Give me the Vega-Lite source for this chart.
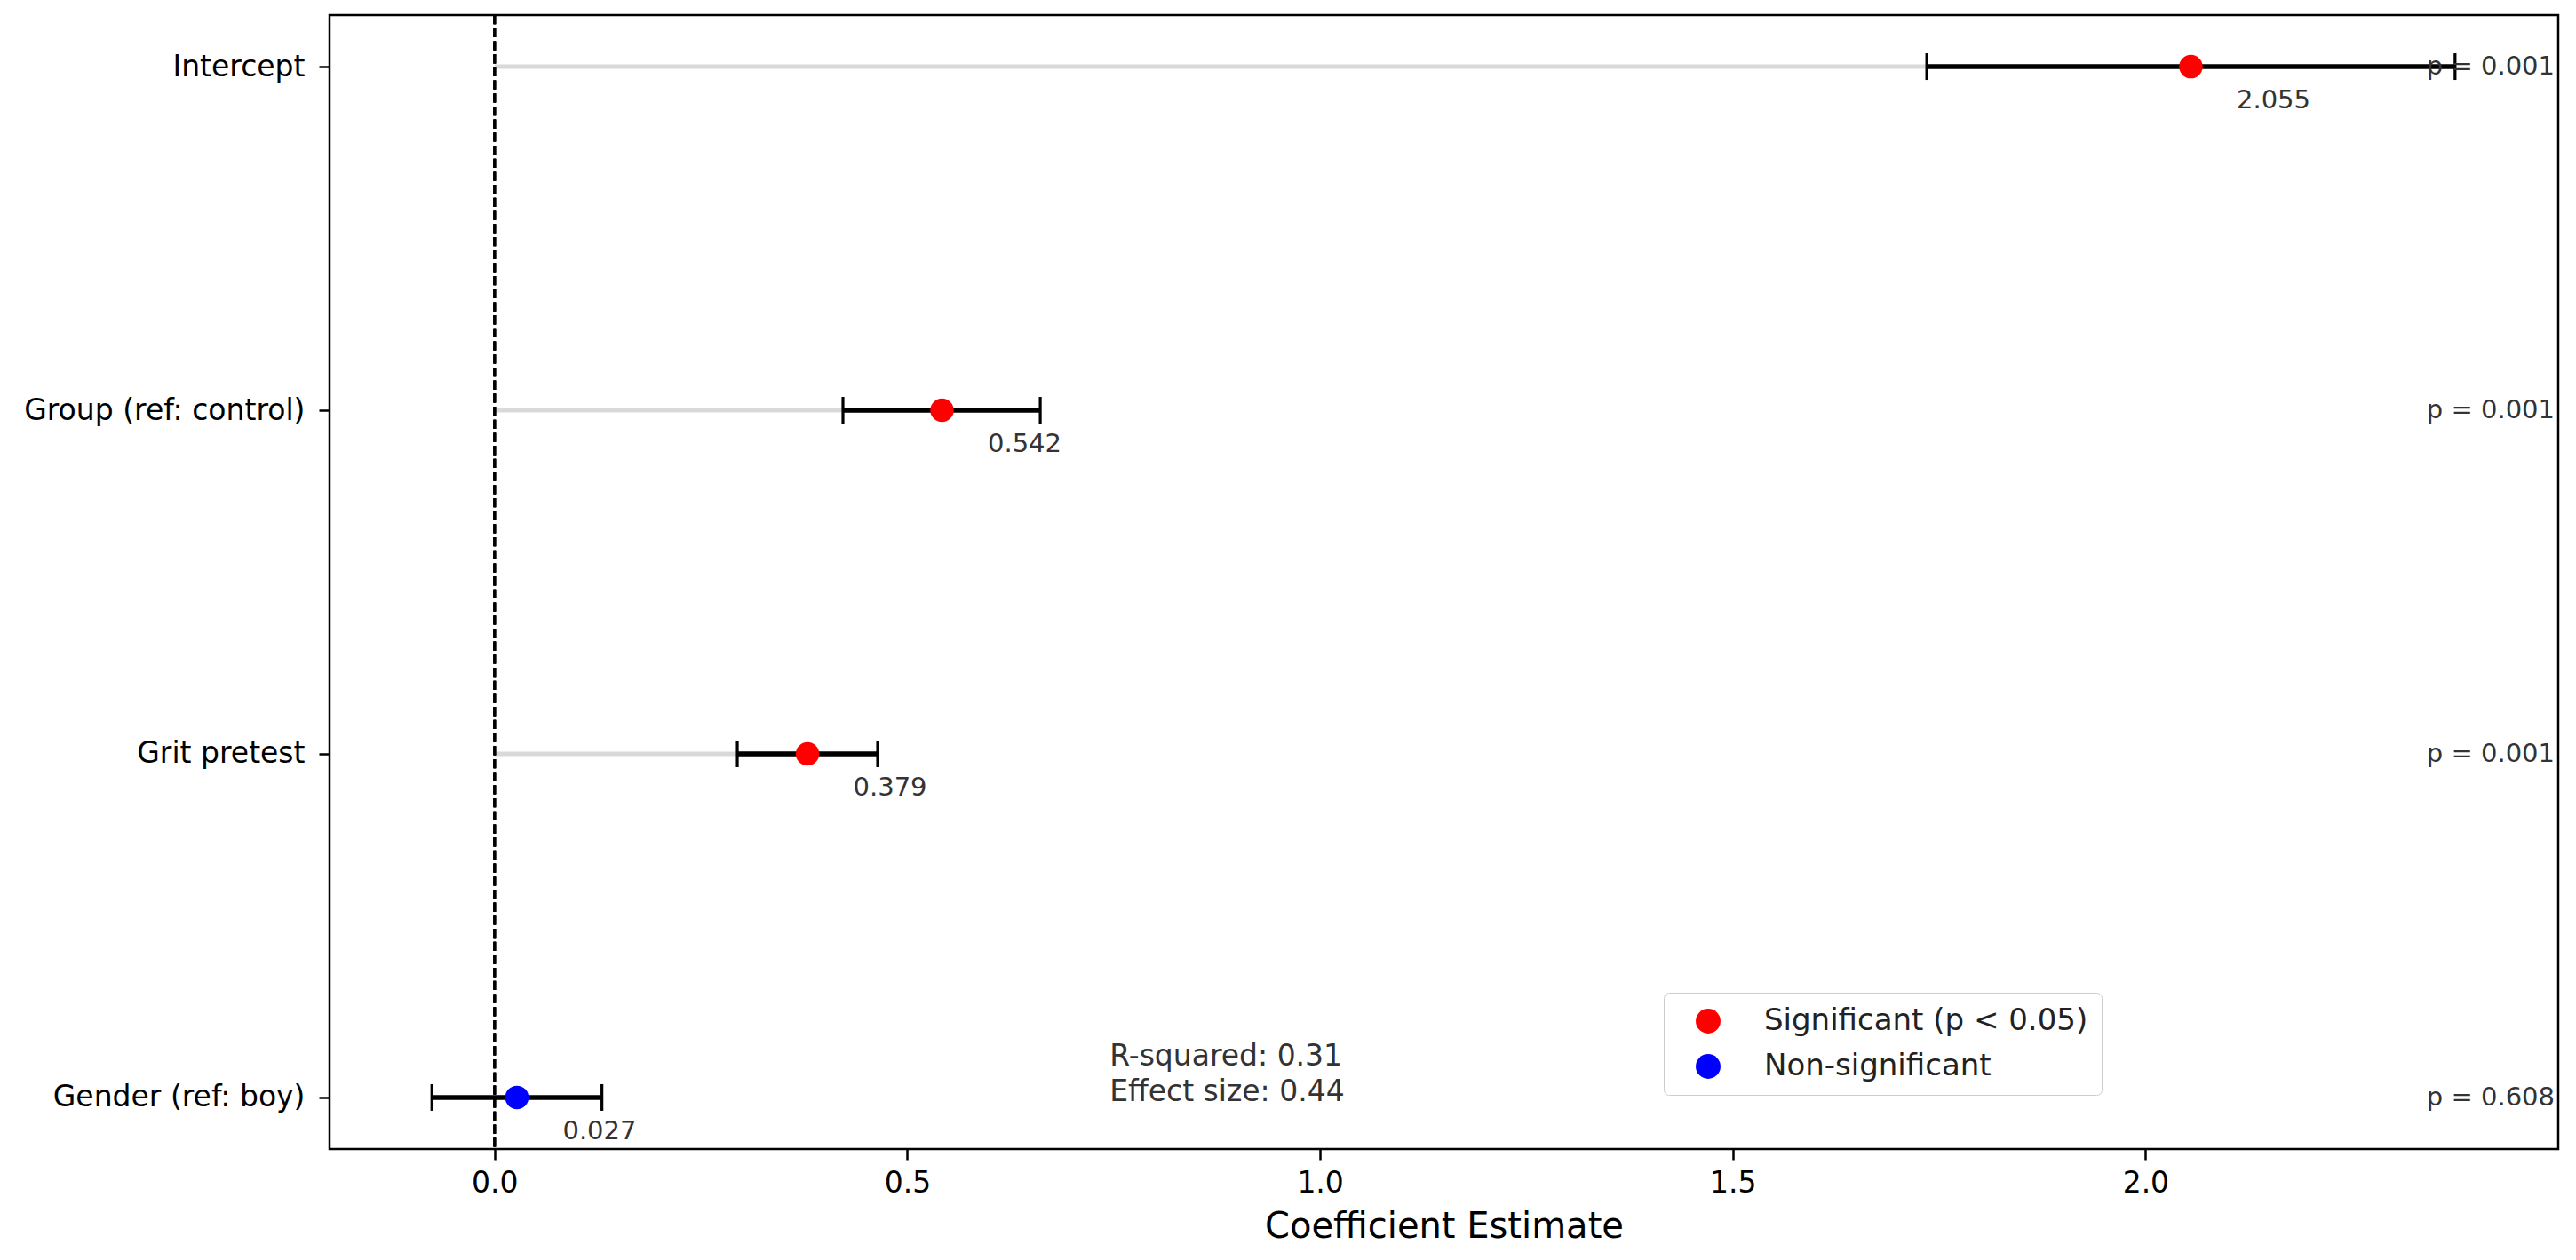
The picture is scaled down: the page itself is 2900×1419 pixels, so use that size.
{
  "$schema": "https://vega.github.io/schema/vega-lite/v6.json",
  "width": 2509,
  "height": 1277,
  "autosize": {"type": "none"},
  "padding": {"left": 371, "top": 17, "right": 20, "bottom": 125},
  "background": "white",
  "datasets": {
    "coefs": [
      {"term": "Intercept", "estimate": 2.055, "lo": 1.735, "hi": 2.375, "p_text": "p = 0.001", "sig": "Significant (p < 0.05)"},
      {"term": "Group (ref: control)", "estimate": 0.542, "lo": 0.422, "hi": 0.661, "p_text": "p = 0.001", "sig": "Significant (p < 0.05)"},
      {"term": "Grit pretest", "estimate": 0.379, "lo": 0.294, "hi": 0.464, "p_text": "p = 0.001", "sig": "Significant (p < 0.05)"},
      {"term": "Gender (ref: boy)", "estimate": 0.027, "lo": -0.076, "hi": 0.130, "p_text": "p = 0.608", "sig": "Non-significant"}
    ],
    "notes": [
      {"note": "R-squared: 0.31\nEffect size: 0.44"}
    ]
  },
  "data": {"name": "coefs"},
  "layer": [
    {
      "mark": {"type": "rule", "color": "#d9d9d9", "strokeWidth": 5},
      "encoding": {
        "y": {
          "field": "term", "type": "nominal", "sort": null,
          "scale": {"type": "point", "padding": 0.15},
          "axis": {"title": null}
        },
        "x": {
          "field": "estimate", "type": "quantitative",
          "scale": {"domain": [-0.2, 2.5], "nice": false, "zero": false},
          "axis": {"title": "Coefficient Estimate", "values": [0, 0.5, 1, 1.5, 2], "format": ".1f"}
        },
        "x2": {"datum": 0}
      }
    },
    {
      "mark": {"type": "rule", "color": "black", "strokeWidth": 2.8, "strokeDash": [10.3, 4.4]},
      "encoding": {
        "x": {"datum": 0, "type": "quantitative"}
      }
    },
    {
      "mark": {"type": "rule", "color": "black", "strokeWidth": 5.5},
      "encoding": {
        "y": {"field": "term", "type": "nominal", "sort": null},
        "x": {"field": "lo", "type": "quantitative"},
        "x2": {"field": "hi"}
      }
    },
    {
      "mark": {"type": "tick", "color": "black", "size": 30, "thickness": 3.2, "opacity": 1},
      "encoding": {
        "y": {"field": "term", "type": "nominal", "sort": null},
        "x": {"field": "lo", "type": "quantitative"}
      }
    },
    {
      "mark": {"type": "tick", "color": "black", "size": 30, "thickness": 3.2, "opacity": 1},
      "encoding": {
        "y": {"field": "term", "type": "nominal", "sort": null},
        "x": {"field": "hi", "type": "quantitative"}
      }
    },
    {
      "mark": {"type": "point", "shape": "circle", "filled": true, "opacity": 1, "size": 700, "strokeWidth": 0},
      "encoding": {
        "y": {"field": "term", "type": "nominal", "sort": null},
        "x": {"field": "estimate", "type": "quantitative"},
        "color": {
          "field": "sig", "type": "nominal",
          "scale": {"domain": ["Significant (p < 0.05)", "Non-significant"], "range": ["#ff0000", "#0000ff"]},
          "legend": {
            "title": null, "orient": "none", "legendX": 1502, "legendY": 1101, "direction": "vertical",
            "labelFontSize": 34, "labelColor": "#222222", "labelLimit": 800, "symbolSize": 780, "symbolType": "circle", "symbolStrokeWidth": 0,
            "rowPadding": 17, "padding": 15, "strokeColor": "#cccccc", "fillColor": "white", "cornerRadius": 6,
            "labelOffset": 46, "symbolOffset": 18
          }
        }
      }
    },
    {
      "mark": {"type": "text", "fontSize": 29, "color": "#333333", "align": "center", "baseline": "middle", "dx": 93, "dy": 38},
      "encoding": {
        "y": {"field": "term", "type": "nominal", "sort": null},
        "x": {"field": "estimate", "type": "quantitative"},
        "text": {"field": "estimate", "type": "quantitative", "format": ".3f"}
      }
    },
    {
      "mark": {"type": "text", "fontSize": 29, "color": "#333333", "align": "right", "baseline": "middle", "dx": -4},
      "encoding": {
        "y": {"field": "term", "type": "nominal", "sort": null},
        "x": {"datum": 2.5, "type": "quantitative"},
        "text": {"field": "p_text", "type": "nominal"}
      }
    },
    {
      "data": {"name": "notes"},
      "mark": {"type": "text", "fontSize": 33, "color": "#333333", "align": "left", "baseline": "middle", "lineBreak": "\n", "lineHeight": 40, "dy": -46},
      "encoding": {
        "x": {"datum": 0.745, "type": "quantitative"},
        "y": {"datum": "Gender (ref: boy)", "type": "nominal"},
        "text": {"field": "note", "type": "nominal"}
      }
    }
  ],
  "config": {
    "font": "DejaVu Sans",
    "view": {"stroke": "black", "strokeWidth": 2.5},
    "axis": {
      "labelFont": "DejaVu Sans", "titleFont": "DejaVu Sans",
      "labelFontSize": 33, "labelColor": "black", "labelLimit": 800,
      "tickSize": 12, "tickWidth": 2.5, "tickColor": "black",
      "domain": false, "grid": false,
      "titleFontSize": 40, "titleFontWeight": "normal", "titleColor": "black"
    },
    "axisX": {"labelPadding": 10, "titlePadding": 12},
    "axisY": {"labelPadding": 16},
    "legend": {"labelFont": "DejaVu Sans"},
    "text": {"font": "DejaVu Sans"}
  }
}
